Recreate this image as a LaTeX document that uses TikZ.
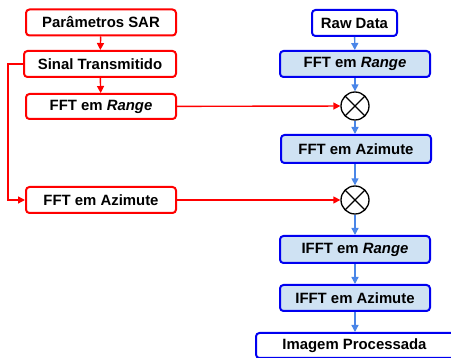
\documentclass[tikz,border=0pt]{standalone}
\usepackage{fontspec}
\setmainfont{Liberation Sans}
\usetikzlibrary{arrows.meta}
\definecolor{rd}{RGB}{255,0,0}
\definecolor{bl}{RGB}{0,0,240}
\definecolor{bfill}{RGB}{207,226,243}
\definecolor{barrow}{RGB}{74,134,232}
\tikzset{
  redbox/.style={draw=rd, line width=2pt, rounded corners=3.5pt, fill=white, minimum width=150pt, minimum height=26pt, inner sep=0pt, font=\fontsize{14.9}{17}\selectfont\bfseries},
  bluebox/.style={draw=bl, line width=2pt, rounded corners=3.5pt, fill=bfill, minimum width=150pt, minimum height=26pt, inner sep=0pt, font=\fontsize{14.9}{17}\selectfont\bfseries},
  whitebox/.style={bluebox, fill=white},
  mult/.style={draw=black, line width=1.3pt, circle, minimum size=28pt, inner sep=0pt, path picture={\draw[line width=1.3pt] (path picture bounding box.north west)--(path picture bounding box.south east) (path picture bounding box.north east)--(path picture bounding box.south west);}},
  redarr/.style={draw=rd, line width=1.4pt, -{Triangle[length=7pt,width=7pt]}},
  bluearr/.style={draw=barrow, line width=1.4pt, -{Triangle[length=7pt,width=7pt]}}
}
\begin{document}
\begin{tikzpicture}[x=1pt,y=-1pt]
\useasboundingbox (0,0) rectangle (451,358);
\node[redbox] (par) at (101,22.5) {Parâmetros SAR};
\node[redbox, minimum width=152pt] (sin) at (100,64) {Sinal Transmitido};
\node[redbox, minimum height=25pt] (ffr) at (101,106.5) {FFT em \textit{Range}};
\node[redbox] (ffa) at (101,200) {FFT em Azimute};
\node[whitebox, minimum width=85pt] (raw) at (354.5,23) {Raw Data};
\node[bluebox] (bfr) at (355,64) {FFT em \textit{Range}};
\node[mult] (m1) at (355,106) {};
\node[bluebox, minimum height=28pt] (baz) at (356,149) {FFT em Azimute};
\node[mult] (m2) at (355,200) {};
\node[bluebox, minimum height=27pt] (ifr) at (355,249.5) {IFFT em \textit{Range}};
\node[bluebox] (ifa) at (355,298) {IFFT em Azimute};
\node[whitebox, minimum width=200pt, minimum height=25pt, anchor=north west] (img) at (255,332) {\hspace*{-3pt}Imagem Processada};
\draw[redarr] (par) -- (sin);
\draw[redarr] (sin) -- (ffr);
\draw[redarr] (ffr) -- (m1);
\draw[redarr] (ffa) -- (m2);
\draw[redarr] (sin.west) -| (8,130) |- (ffa.west);
\draw[bluearr] (raw) -- (bfr);
\draw[bluearr] (bfr) -- (m1);
\draw[bluearr] (m1) -- (m1|-baz.north);
\draw[bluearr] (m1|-baz.south) -- (m2);
\draw[bluearr] (m2) -- (ifr);
\draw[bluearr] (ifr) -- (ifa);
\draw[bluearr] (ifa) -- (ifa|-img.north);
\end{tikzpicture}
\end{document}
